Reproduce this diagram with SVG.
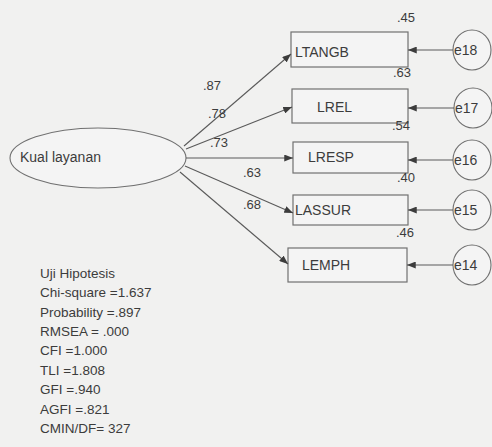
<svg xmlns="http://www.w3.org/2000/svg" width="492" height="447" viewBox="0 0 492 447">
<style>
text{font-family:"Liberation Sans",Arial,sans-serif;fill:#3c3c3c}
.lbl{font-size:14px}
.num{font-size:13px}
.st{font-size:13.5px}
.box{fill:#f4f4f4;stroke:#707070;stroke-width:1.2}
.err{fill:#f4f4f4;stroke:#707070;stroke-width:1.1}
.con line{stroke:#5a5a5a;stroke-width:1.1;marker-end:url(#ah)}
</style>
<defs>
<marker id="ah" viewBox="0 0 10 8" refX="10" refY="4" markerWidth="9" markerHeight="7" markerUnits="userSpaceOnUse" orient="auto">
<path d="M0,0 L10,4 L0,8 z" fill="#3c3c3c"/>
</marker>
</defs>
<rect width="492" height="447" fill="#f1f1f0"/>

<g id="kual">
<ellipse cx="98" cy="158" rx="88" ry="30" class="err"/>
<text x="20" y="162" class="lbl">Kual layanan</text>
</g>

<g id="ltangb"><rect x="291" y="32" width="117" height="35" class="box"/><text x="295" y="57" class="lbl">LTANGB</text></g>
<g id="lrel"><rect x="292" y="89" width="116" height="34" class="box"/><text x="317" y="112" class="lbl">LREL</text></g>
<g id="lresp"><rect x="293" y="142" width="115" height="31" class="box"/><text x="308" y="162" class="lbl">LRESP</text></g>
<g id="lassur"><rect x="293" y="195" width="115" height="30" class="box"/><text x="295" y="215" class="lbl">LASSUR</text></g>
<g id="lemph"><rect x="288" y="248" width="119" height="34" class="box"/><text x="302" y="270" class="lbl">LEMPH</text></g>

<g id="e18"><ellipse cx="472" cy="50" rx="19" ry="20" class="err"/><text x="454" y="55" class="lbl">e18</text></g>
<g id="e17"><ellipse cx="473" cy="108" rx="19" ry="20" class="err"/><text x="455" y="113" class="lbl">e17</text></g>
<g id="e16"><ellipse cx="472" cy="160" rx="19" ry="20" class="err"/><text x="454" y="165" class="lbl">e16</text></g>
<g id="e15"><ellipse cx="472" cy="210" rx="19" ry="20" class="err"/><text x="454" y="215" class="lbl">e15</text></g>
<g id="e14"><ellipse cx="472" cy="265" rx="19" ry="20" class="err"/><text x="454" y="270" class="lbl">e14</text></g>

<g class="con" id="connectors">
<line x1="184" y1="146" x2="291" y2="54"/>
<line x1="186" y1="149" x2="292" y2="107"/>
<line x1="186" y1="158" x2="293" y2="158"/>
<line x1="185" y1="166" x2="293" y2="213"/>
<line x1="180" y1="172" x2="288" y2="264"/>
<line x1="453" y1="50" x2="408" y2="50"/>
<line x1="454" y1="108" x2="408" y2="108"/>
<line x1="453" y1="160" x2="408" y2="160"/>
<line x1="453" y1="210" x2="408" y2="210"/>
<line x1="453" y1="265" x2="407" y2="265"/>
</g>

<g id="coefs" class="num">
<text x="397" y="22">.45</text>
<text x="393" y="77">.63</text>
<text x="203" y="90">.87</text>
<text x="208" y="118">.78</text>
<text x="392" y="130">.54</text>
<text x="210" y="147">.73</text>
<text x="243" y="177">.63</text>
<text x="397" y="182">.40</text>
<text x="243" y="209">.68</text>
<text x="396" y="237">.46</text>
</g>

<g id="stats" class="st">
<text x="40" y="278">Uji Hipotesis</text>
<text x="40" y="297">Chi-square =1.637</text>
<text x="40" y="317">Probability =.897</text>
<text x="40" y="336">RMSEA = .000</text>
<text x="40" y="355">CFI =1.000</text>
<text x="40" y="375">TLI =1.808</text>
<text x="40" y="394">GFI =.940</text>
<text x="40" y="414">AGFI =.821</text>
<text x="40" y="433">CMIN/DF= 327</text>
</g>
</svg>
